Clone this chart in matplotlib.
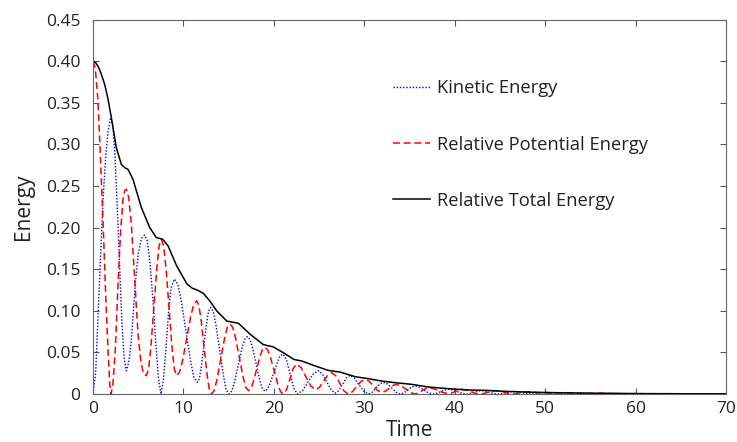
import matplotlib
matplotlib.use("Agg")
import matplotlib.pyplot as plt

plt.rcParams['font.family'] = ['Open Sans', 'DejaVu Sans']

# ---- data ----
t_ke = [0, 0.29, 0.55, 0.85, 1.1, 1.4, 1.66, 1.95,
        2.2, 2.4, 2.7, 2.95, 3.2, 3.45, 3.69,
        3.95, 4.2, 4.4, 4.7, 5.0, 5.35, 5.7,
        6.0, 6.3, 6.64, 6.95, 7.25, 7.52,
        7.8, 8.1, 8.35, 8.65, 9.0,
        9.38, 9.76, 10.27, 10.78, 11.16, 11.54,
        11.76, 11.98, 12.27, 12.56, 12.78, 13.0,
        13.31, 13.61, 14.02, 14.43, 14.73, 15.04,
        15.34, 15.65, 16.05, 16.46, 16.77, 17.07,
        17.36, 17.65, 18.04, 18.42, 18.71, 19.0,
        19.3, 19.6, 20.0, 20.4, 20.7, 21.0,
        21.4, 21.8, 22.2, 22.6,
        23.18, 23.75, 24.33, 24.9,
        25.38, 25.85, 26.33, 26.8,
        27.2, 27.6, 28.0, 28.4,
        28.9, 29.4, 29.95, 30.45,
        30.86, 31.28, 31.7, 32.1,
        32.58, 33.05, 33.53, 34.0,
        34.4, 34.8, 35.2, 35.6,
        36.1, 36.6, 37.1, 37.6,
        38.0, 38.45, 38.9, 39.3,
        39.8, 40.3, 40.8, 41.3,
        41.7, 42.1, 42.5, 42.9,
        43.4, 43.85, 44.3, 44.8,
        45.2, 45.65, 46.1, 46.5,
        47.0, 47.5, 48.0, 48.5,
        49.3, 50.2, 51.1, 52, 53, 54, 55, 56, 57, 58, 59, 60,
        62, 64, 66, 68, 70]
ke = [0, 0.025, 0.092, 0.17, 0.232, 0.285, 0.315, 0.332,
      0.322, 0.292, 0.22, 0.152, 0.085, 0.042, 0.028,
      0.038, 0.06, 0.09, 0.135, 0.168, 0.187, 0.191,
      0.184, 0.158, 0.112, 0.06, 0.018, 0,
      0.018, 0.06, 0.098, 0.128, 0.138,
      0.132, 0.112, 0.076, 0.040, 0.020, 0.014,
      0.0185, 0.033, 0.059, 0.085, 0.0995, 0.104,
      0.099, 0.082, 0.052, 0.022, 0.005, 0,
      0.0035, 0.0145, 0.0345, 0.0545, 0.0655, 0.069,
      0.0657, 0.0553, 0.0363, 0.0173, 0.0069, 0.0036,
      0.0058, 0.0129, 0.0258, 0.0387, 0.0458, 0.048,
      0.041, 0.024, 0.007, 0,
      0.0042, 0.014, 0.0238, 0.028,
      0.024, 0.0145, 0.005, 0.001,
      0.0042, 0.0117, 0.0192, 0.0224,
      0.019, 0.0112, 0.0034, 0,
      0.002, 0.007, 0.012, 0.014,
      0.012, 0.007, 0.002, 0,
      0.0014, 0.0048, 0.0082, 0.0096,
      0.0082, 0.0048, 0.0014, 0,
      0.0008, 0.0028, 0.0048, 0.0056,
      0.0048, 0.0028, 0.0008, 0,
      0.0006, 0.002, 0.0034, 0.004,
      0.0034, 0.002, 0.0006, 0,
      0.0005, 0.0015, 0.0025, 0.003,
      0.0025, 0.0015, 0.0005, 0,
      0.001, 0.002, 0.001, 0, 0.0006, 0.0012, 0.0006, 0, 0.0006, 0.0008, 0.0004, 0,
      0.0003, 0, 0.0002, 0, 0]

t_pe = [0, 0.25, 0.55, 0.8, 1.1, 1.4, 1.66, 1.85, 2.0,
        2.2, 2.45, 2.77, 3.05, 3.3, 3.5, 3.69,
        3.95, 4.24, 4.6, 4.98, 5.3, 5.6, 5.9,
        6.15, 6.4, 6.73, 7.06, 7.31, 7.56,
        7.81, 8.07, 8.4, 8.74, 8.99, 9.25,
        9.58, 9.92, 10.36, 10.8, 11.14, 11.47,
        11.71, 11.96, 12.29, 12.61, 12.86, 13.1,
        13.41, 13.72, 14.13, 14.54, 14.84, 15.15,
        15.46, 15.77, 16.18, 16.59, 16.89, 17.2,
        17.47, 17.74, 18.1, 18.46, 18.73, 19.0,
        19.31, 19.62, 20.03, 20.44, 20.74, 21.05,
        21.41, 21.78, 22.14, 22.5,
        23.03, 23.55, 24.08, 24.6,
        25.05, 25.5, 25.95, 26.4,
        26.85, 27.3, 27.75, 28.2,
        28.68, 29.15, 29.63, 30.1,
        30.55, 31.0, 31.45, 31.9,
        32.33, 32.75, 33.18, 33.6,
        34.1, 34.6, 35.1, 35.6,
        35.98, 36.35, 36.73, 37.1,
        37.65, 38.2, 38.75, 39.3,
        39.68, 40.05, 40.43, 40.8,
        41.3, 41.8, 42.3, 42.8,
        43.2, 43.65, 44.1, 44.5,
        45.0, 45.5, 46.0, 46.5,
        46.9, 47.35, 47.8, 48.2,
        48.7, 49.2, 49.7, 50.2,
        51.1, 52, 53, 54, 55, 56, 57, 58, 60, 62, 64, 66, 68, 70]
pe = [0.40, 0.392, 0.352, 0.29, 0.21, 0.12, 0.052, 0.012, 0,
      0.012, 0.05, 0.132, 0.195, 0.232, 0.244, 0.246,
      0.236, 0.204, 0.14, 0.072, 0.038, 0.024, 0.022,
      0.030, 0.056, 0.104, 0.152, 0.178, 0.186,
      0.178, 0.152, 0.104, 0.056, 0.030, 0.022,
      0.0265, 0.041, 0.067, 0.093, 0.1075, 0.112,
      0.1064, 0.0885, 0.056, 0.0235, 0.0056, 0,
      0.0042, 0.0176, 0.042, 0.0664, 0.0798, 0.084,
      0.08, 0.0672, 0.044, 0.0208, 0.008, 0.004,
      0.0066, 0.0149, 0.030, 0.0451, 0.0534, 0.056,
      0.0532, 0.0442, 0.028, 0.0118, 0.0028, 0,
      0.0054, 0.018, 0.0306, 0.036,
      0.0314, 0.0205, 0.0097, 0.005,
      0.0081, 0.0153, 0.0225, 0.0256,
      0.0218, 0.0128, 0.0038, 0,
      0.0026, 0.0088, 0.015, 0.0176,
      0.0153, 0.0098, 0.0043, 0.002,
      0.0034, 0.0068, 0.0102, 0.0116,
      0.0099, 0.0058, 0.0017, 0,
      0.0011, 0.0038, 0.0065, 0.0076,
      0.0065, 0.004, 0.0016, 0.0005,
      0.0013, 0.003, 0.0048, 0.0056,
      0.0048, 0.0028, 0.0008, 0,
      0.0006, 0.002, 0.0034, 0.004,
      0.0034, 0.002, 0.0006, 0,
      0.0004, 0.0014, 0.0024, 0.0028,
      0.0024, 0.0014, 0.0004, 0,
      0.001, 0.0018, 0.001, 0, 0.0006, 0.001, 0.0006, 0, 0.0005, 0, 0.0003, 0, 0.0002, 0]

t_tot = [0, 0.3, 0.6, 0.9, 1.29, 1.65, 2.03, 2.58, 3.13, 3.5, 3.87, 4.42,
         5.35, 6.27, 7.0, 7.7, 8.3, 9.25, 10.4, 11.0, 11.5, 12.2, 12.9,
         13.7, 14.8, 15.5, 16.1, 17.4, 18.8, 19.4, 19.9, 21.05, 22.2, 23.1,
         24.6, 26.0, 27.3, 29.0, 30.45, 31.9, 33.4, 35.25, 37.1, 39.3,
         41.5, 43.4, 46, 48.3, 52, 56, 60, 65, 70]
tot = [0.40, 0.398, 0.393, 0.385, 0.372, 0.355, 0.332, 0.296, 0.276, 0.272, 0.27, 0.258,
       0.224, 0.20, 0.188, 0.186, 0.178, 0.154, 0.132, 0.127, 0.125, 0.121, 0.112,
       0.0996, 0.0876, 0.0862, 0.0848, 0.0716, 0.0596, 0.0578, 0.0568, 0.0496, 0.0416, 0.0396,
       0.0336, 0.0284, 0.0264, 0.0208, 0.0184, 0.0156, 0.0136, 0.0116, 0.0084, 0.0064,
       0.0048, 0.0044, 0.003, 0.0022, 0.0014, 0.0009, 0.0005, 0.0003, 0.0002]

x_ticks = [0, 10, 20, 30, 40, 50, 60, 70]
y_ticks = [0, 0.05, 0.10, 0.15, 0.20, 0.25, 0.30, 0.35, 0.40, 0.45]
y_tick_labels = ['0', '0.05', '0.10', '0.15', '0.20', '0.25', '0.30', '0.35', '0.40', '0.45']

# ---- figure ----
fig = plt.figure(figsize=(7.37, 4.42), dpi=100)
ax = fig.add_axes([93/737, 1-394/442, 633/737, (394-19.5)/442])

ax.plot(t_ke, ke, color='#0000ff', lw=1.0, linestyle=(0, (1, 1.3)), label='Kinetic Energy')
ax.plot(t_pe, pe, color='#ff0000', lw=1.1, linestyle=(0, (4.5, 2.5)), label='Relative Potential Energy')
ax.plot(t_tot, tot, color='black', lw=1.1, label='Relative Total Energy')

ax.set_xlim(0, 70)
ax.set_ylim(0, 0.45)
ax.set_xticks(x_ticks)
ax.set_yticks(y_ticks)
ax.set_yticklabels(y_tick_labels)
ax.tick_params(direction='in', top=True, right=True, length=4, width=0.8,
               color='#555555', labelsize=12.5, labelcolor='#222222')
ax.tick_params(axis='y', pad=9)
ax.tick_params(axis='x', pad=5)
for s in ax.spines.values():
    s.set_color('#666666')
    s.set_linewidth(0.8)

ax.set_xlabel('Time', fontsize=15, color='#222222', labelpad=2)
ax.set_ylabel('Energy', fontsize=15, color='#222222', labelpad=9)

leg = ax.legend(loc='upper left', bbox_to_anchor=(0.474, 0.84), frameon=False,
                handlelength=2.0, handletextpad=0.38, labelspacing=2.08,
                borderaxespad=0, borderpad=0, fontsize=13.2)
for txt in leg.get_texts():
    txt.set_color('#222222')

fig.savefig('out.png', dpi=100)
